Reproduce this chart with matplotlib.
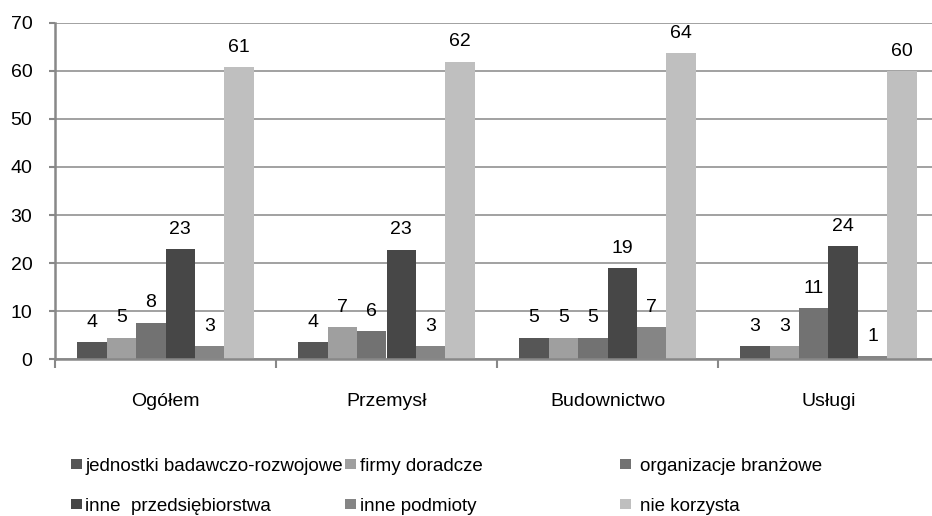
import matplotlib
matplotlib.use("Agg")
import matplotlib.pyplot as plt
from matplotlib.patches import Rectangle
from matplotlib import font_manager
import numpy as np

plt.rcParams['font.family'] = ['Liberation Sans', 'DejaVu Sans']
_names = {f.name for f in font_manager.fontManager.ttflist}
NUM_FAMILY = ['Liberation Sans Narrow', 'Liberation Sans'] if 'Liberation Sans Narrow' in _names else ['Liberation Sans']
NUM_SIZE = 15 if 'Liberation Sans Narrow' in _names else 14

categories = ["Ogółem", "Przemysł", "Budownictwo", "Usługi"]
series_names = ["jednostki badawczo-rozwojowe", "firmy doradcze", "organizacje branżowe",
                "inne  przedsiębiorstwa", "inne podmioty", "nie korzysta"]
# bar heights (per category)
jednostki = [3.6, 3.6, 4.5, 2.7]
firmy = [4.5, 6.7, 4.5, 2.7]
organizacje = [7.6, 5.8, 4.5, 10.6]
inne_przeds = [22.9, 22.8, 18.9, 23.6]
inne_podm = [2.7, 2.7, 6.7, 0.6]
nie_korzysta = [60.8, 61.9, 63.7, 59.9]
# data labels shown above bars
lab_jednostki = [4, 4, 5, 3]
lab_firmy = [5, 7, 5, 3]
lab_organizacje = [8, 6, 5, 11]
lab_inne_przeds = [23, 23, 19, 24]
lab_inne_podm = [3, 3, 7, 1]
lab_nie_korzysta = [61, 62, 64, 60]
yticks = [0, 10, 20, 30, 40, 50, 60, 70]

series = [jednostki, firmy, organizacje, inne_przeds, inne_podm, nie_korzysta]
labels = [lab_jednostki, lab_firmy, lab_organizacje, lab_inne_przeds, lab_inne_podm, lab_nie_korzysta]
colors = ["#565656", "#9f9f9f", "#727272", "#474747", "#858585", "#bfbfbf"]

W, H = 932, 516
fig = plt.figure(figsize=(W / 100, H / 100), dpi=100)
ax = fig.add_axes([55 / W, 1 - 359.3 / H, 884 / W, (359.3 - 22.7) / H])

x = np.arange(len(categories))
bw = 0.8 / 6
gray = "#888888"
for i, (vals, labs, c) in enumerate(zip(series, labels, colors)):
    xs = x - 0.4 + bw * (i + 0.5)
    bars = ax.bar(xs, vals, width=bw, color=c, zorder=3, linewidth=0)
    for b, lab in zip(bars, labs):
        ax.annotate(str(lab), (b.get_x() + b.get_width() / 2, b.get_height()),
                    xytext=(0, 11), textcoords="offset points",
                    ha="center", va="baseline", fontsize=NUM_SIZE,
                    family=NUM_FAMILY, color="black")

ax.set_xlim(-0.5, 3.5)
ax.set_ylim(0, 70)
ax.set_yticks(yticks)
ax.set_yticklabels([str(t) for t in yticks], fontsize=NUM_SIZE, family=NUM_FAMILY)
ax.yaxis.grid(True, color=gray, linewidth=1.1, zorder=0)
ax.set_axisbelow(True)

ax.set_xticks(np.arange(-0.5, 4.0, 1.0))
ax.set_xticklabels([])
ax.set_xticks(x, minor=True)
ax.set_xticklabels(categories, minor=True, fontsize=14)
ax.tick_params(axis="x", which="major", length=6.5, width=1.5, color=gray, direction="out")
ax.tick_params(axis="x", which="minor", length=0, pad=24)
ax.tick_params(axis="y", length=4.3, width=1.5, color=gray, direction="out", pad=12)

for s in ["top", "right"]:
    ax.spines[s].set_visible(False)
for s in ["left", "bottom"]:
    ax.spines[s].set_color(gray)
    ax.spines[s].set_linewidth(1.8)
    ax.spines[s].set_zorder(4)

# legend (manually laid out to match the reference)
col_marker_x = [70.7, 345, 620]
col_text_x = [85, 360, 640]
row_base = [471, 511]
for i, (name, c) in enumerate(zip(series_names, colors)):
    col = i % 3
    row = i // 3
    mx = col_marker_x[col]
    by = row_base[row]
    fig.add_artist(Rectangle((mx / W, 1 - (by - 2) / H), 11 / W, 10 / H,
                             transform=fig.transFigure, facecolor=c, edgecolor="none"))
    fig.text(col_text_x[col] / W, 1 - by / H, name, fontsize=13.5,
             va="baseline", ha="left", color="black")

fig.savefig("out.png", dpi=100)
